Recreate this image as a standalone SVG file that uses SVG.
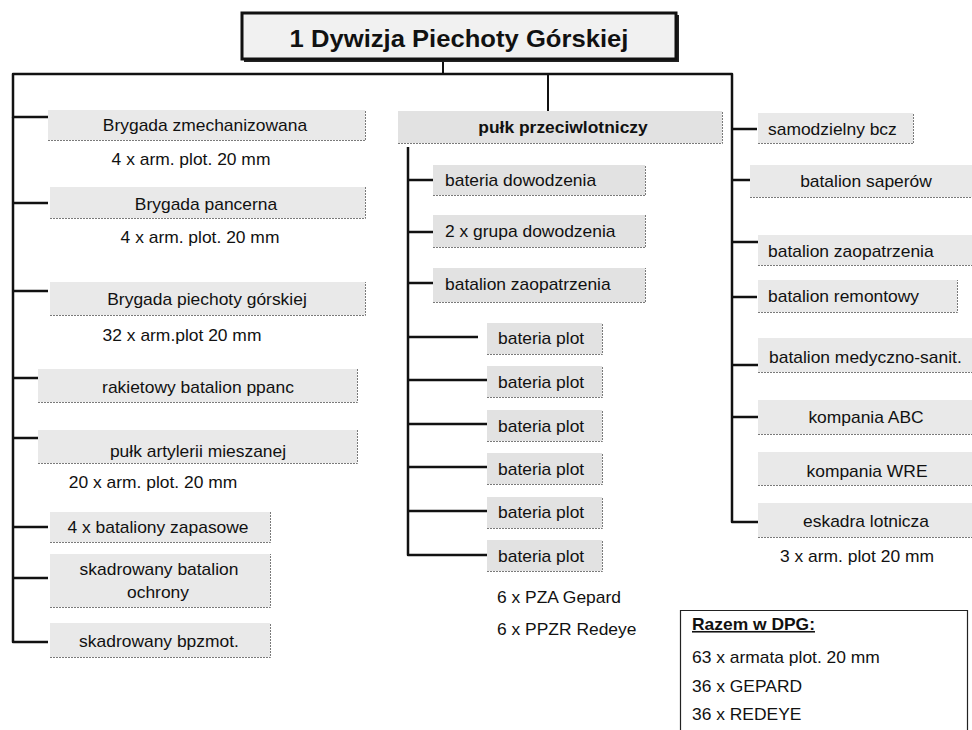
<svg xmlns="http://www.w3.org/2000/svg" width="972" height="730" viewBox="0 0 972 730">
  <style>
    .t { font-family: "Liberation Sans", Arial, sans-serif; font-size: 16px; fill: #111; }
    .c { text-anchor: middle; }
    .b { font-weight: bold; }
    .box { fill: #e9e9e9; }
    .boxd { fill: #e2e2e2; }
    .edge { fill: none; stroke: #7a7a7a; stroke-width: 1; stroke-dasharray: 2 1; }
    .ln { fill: none; stroke: #111; stroke-width: 2.5; stroke-linejoin: round; }
    .thin { fill: none; stroke: #111; stroke-width: 2; }
  </style>

  <rect width="972" height="730" fill="#ffffff"/>

  <!-- connectors -->
  <g id="connectors">
    <line class="thin" x1="443" y1="60" x2="443" y2="74"/>
    <path class="ln" d="M48 117 H13 V74 H732 V522 H758"/>
    <line class="thin" x1="548" y1="74" x2="548" y2="111"/>
    <path class="ln" d="M13 117 V642 H48"/>
    <path class="ln" d="M13 203 H48 M13 291 H48 M13 378 H40 M13 438 H40 M13 527 H48 M13 578 H48"/>
    <path class="ln" d="M732 129 H757 M732 180 H750 M732 242 H758 M732 297 H757 M732 365 H758 M732 417 H758"/>
    <path class="ln" d="M408 147 V555 H487"/>
    <path class="ln" d="M408 180 H433 M408 232 H433 M408 283 H433"/>
    <path class="ln" d="M408 337 H478 M408 380 H487 M408 424 H487 M408 467 H487 M408 511 H487"/>
  </g>

  <!-- division headquarters -->
  <g id="dpg">
    <rect x="244" y="15" width="435" height="47" fill="#222"/>
    <rect x="242" y="13" width="434" height="46" fill="#f1f1f1" stroke="#111" stroke-width="3"/>
    <text class="t c b" style="font-size:23.5px" transform="translate(459 47) scale(1.09 1)">1 Dywizja Piechoty Górskiej</text>
  </g>

  <!-- left column -->
  <g id="bryg-zmech">
    <rect class="box" x="48" y="110" width="317" height="30"/>
    <path class="edge" d="M48 140.5 H365.5 V110"/>
    <text class="t c" transform="translate(205 131) scale(1.09 1)">Brygada zmechanizowana</text>
    <text class="t c" transform="translate(191 165) scale(1.09 1)">4 x arm. plot. 20 mm</text>
  </g>
  <g id="bryg-panc">
    <rect class="box" x="50" y="187" width="315" height="31"/>
    <path class="edge" d="M50 218.5 H365.5 V187"/>
    <text class="t c" transform="translate(206 210) scale(1.09 1)">Brygada pancerna</text>
    <text class="t c" transform="translate(200 243) scale(1.09 1)">4 x arm. plot. 20 mm</text>
  </g>
  <g id="bryg-pg">
    <rect class="box" x="50" y="282" width="315" height="33"/>
    <path class="edge" d="M50 315.5 H365.5 V282"/>
    <text class="t c" transform="translate(207 305) scale(1.09 1)">Brygada piechoty górskiej</text>
    <text class="t c" transform="translate(182 341) scale(1.09 1)">32 x arm.plot 20 mm</text>
  </g>
  <g id="rbppanc">
    <rect class="box" x="38" y="369" width="319" height="33"/>
    <path class="edge" d="M38 402.5 H357.5 V369"/>
    <text class="t c" transform="translate(198 393) scale(1.09 1)">rakietowy batalion ppanc</text>
  </g>
  <g id="pam">
    <rect class="box" x="38" y="430" width="319" height="33"/>
    <path class="edge" d="M38 463.5 H357.5 V430"/>
    <text class="t c" transform="translate(198 457) scale(1.09 1)">pułk artylerii mieszanej</text>
    <text class="t c" transform="translate(153 488) scale(1.09 1)">20 x arm. plot. 20 mm</text>
  </g>
  <g id="bzap">
    <rect class="box" x="50" y="512" width="220" height="30"/>
    <path class="edge" d="M50 542.5 H270.5 V512"/>
    <text class="t c" transform="translate(158 533) scale(1.09 1)">4 x bataliony zapasowe</text>
  </g>
  <g id="bochr">
    <rect class="box" x="50" y="554" width="220" height="53"/>
    <path class="edge" d="M50 607.5 H270.5 V554"/>
    <text class="t c" transform="translate(159 575) scale(1.09 1)">skadrowany batalion</text>
    <text class="t c" transform="translate(158 598) scale(1.09 1)">ochrony</text>
  </g>
  <g id="bpzmot">
    <rect class="box" x="50" y="623" width="220" height="34"/>
    <path class="edge" d="M50 657.5 H270.5 V623"/>
    <text class="t c" transform="translate(159 647) scale(1.09 1)">skadrowany bpzmot.</text>
  </g>

  <!-- air defence regiment -->
  <g id="pplot">
    <rect class="boxd" x="398" y="111" width="324" height="32"/>
    <path class="edge" d="M398 143.5 H722.5 V111"/>
    <text class="t c b" transform="translate(563 133) scale(1.09 1)">pułk przeciwlotniczy</text>
  </g>
  <g id="bdow">
    <rect class="boxd" x="433" y="165" width="212" height="30"/>
    <path class="edge" d="M433 195.5 H645.5 V165"/>
    <text class="t" transform="translate(445 186) scale(1.09 1)">bateria dowodzenia</text>
  </g>
  <g id="gdow">
    <rect class="boxd" x="433" y="215" width="212" height="32"/>
    <path class="edge" d="M433 247.5 H645.5 V215"/>
    <text class="t" transform="translate(445 237) scale(1.09 1)">2 x grupa dowodzenia</text>
  </g>
  <g id="pzaop">
    <rect class="boxd" x="433" y="268" width="212" height="34"/>
    <path class="edge" d="M433 302.5 H645.5 V268"/>
    <text class="t" transform="translate(445 290) scale(1.09 1)">batalion zaopatrzenia</text>
  </g>
  <g id="bplot1">
    <rect class="boxd" x="487" y="323" width="115" height="31"/>
    <path class="edge" d="M487 354.5 H602.5 V323"/>
    <text class="t" transform="translate(498 344) scale(1.09 1)">bateria plot</text>
  </g>
  <g id="bplot2">
    <rect class="boxd" x="487" y="366" width="115" height="31"/>
    <path class="edge" d="M487 397.5 H602.5 V366"/>
    <text class="t" transform="translate(498 388) scale(1.09 1)">bateria plot</text>
  </g>
  <g id="bplot3">
    <rect class="boxd" x="487" y="410" width="115" height="31"/>
    <path class="edge" d="M487 441.5 H602.5 V410"/>
    <text class="t" transform="translate(498 432) scale(1.09 1)">bateria plot</text>
  </g>
  <g id="bplot4">
    <rect class="boxd" x="487" y="453" width="115" height="31"/>
    <path class="edge" d="M487 484.5 H602.5 V453"/>
    <text class="t" transform="translate(498 475) scale(1.09 1)">bateria plot</text>
  </g>
  <g id="bplot5">
    <rect class="boxd" x="487" y="497" width="115" height="31"/>
    <path class="edge" d="M487 528.5 H602.5 V497"/>
    <text class="t" transform="translate(498 518) scale(1.09 1)">bateria plot</text>
  </g>
  <g id="bplot6">
    <rect class="boxd" x="487" y="540" width="115" height="31"/>
    <path class="edge" d="M487 571.5 H602.5 V540"/>
    <text class="t" transform="translate(498 562) scale(1.09 1)">bateria plot</text>
  </g>
  <g id="pplot-sprzet">
    <text class="t" transform="translate(497 603) scale(1.09 1)">6 x PZA Gepard</text>
    <text class="t" transform="translate(497 635) scale(1.09 1)">6 x PPZR Redeye</text>
  </g>

  <!-- right column -->
  <g id="bcz">
    <rect class="box" x="758" y="113" width="155" height="30"/>
    <path class="edge" d="M758 143.5 H913.5 V113"/>
    <text class="t" transform="translate(768 135) scale(1.09 1)">samodzielny bcz</text>
  </g>
  <g id="bsap">
    <rect class="box" x="750" y="165" width="222" height="32"/>
    <path class="edge" d="M750 197.5 H972"/>
    <text class="t c" transform="translate(866 187) scale(1.09 1)">batalion saperów</text>
  </g>
  <g id="bzaop">
    <rect class="box" x="758" y="235" width="214" height="30"/>
    <path class="edge" d="M758 265.5 H972"/>
    <text class="t" transform="translate(768 257) scale(1.09 1)">batalion zaopatrzenia</text>
  </g>
  <g id="brem">
    <rect class="box" x="758" y="280" width="199" height="32"/>
    <path class="edge" d="M758 312.5 H957.5 V280"/>
    <text class="t" transform="translate(768 302) scale(1.09 1)">batalion remontowy</text>
  </g>
  <g id="bmed">
    <rect class="box" x="758" y="338" width="214" height="34"/>
    <path class="edge" d="M758 372.5 H972"/>
    <text class="t" transform="translate(769 363) scale(1.09 1)">batalion medyczno-sanit.</text>
  </g>
  <g id="kabc">
    <rect class="box" x="758" y="400" width="214" height="34"/>
    <path class="edge" d="M758 434.5 H972"/>
    <text class="t c" transform="translate(866 423) scale(1.09 1)">kompania ABC</text>
  </g>
  <g id="kwre">
    <rect class="box" x="758" y="452" width="214" height="33"/>
    <path class="edge" d="M758 485.5 H972"/>
    <text class="t c" transform="translate(867 477) scale(1.09 1)">kompania WRE</text>
  </g>
  <g id="elot">
    <rect class="box" x="758" y="503" width="214" height="34"/>
    <path class="edge" d="M758 537.5 H972"/>
    <text class="t c" transform="translate(866 527) scale(1.09 1)">eskadra lotnicza</text>
    <text class="t c" transform="translate(857 562) scale(1.09 1)">3 x arm. plot 20 mm</text>
  </g>

  <!-- totals -->
  <g id="razem">
    <path d="M680.5 730 V610.5 H967.5 V730" fill="#ffffff" stroke="#222" stroke-width="1.2"/>
    <text class="t b" style="text-decoration:underline" transform="translate(692 630) scale(1.09 1)">Razem w DPG:</text>
    <text class="t" transform="translate(692 663) scale(1.09 1)">63 x armata plot. 20 mm</text>
    <text class="t" transform="translate(692 692) scale(1.09 1)">36 x GEPARD</text>
    <text class="t" transform="translate(692 720) scale(1.09 1)">36 x REDEYE</text>
  </g>
</svg>
